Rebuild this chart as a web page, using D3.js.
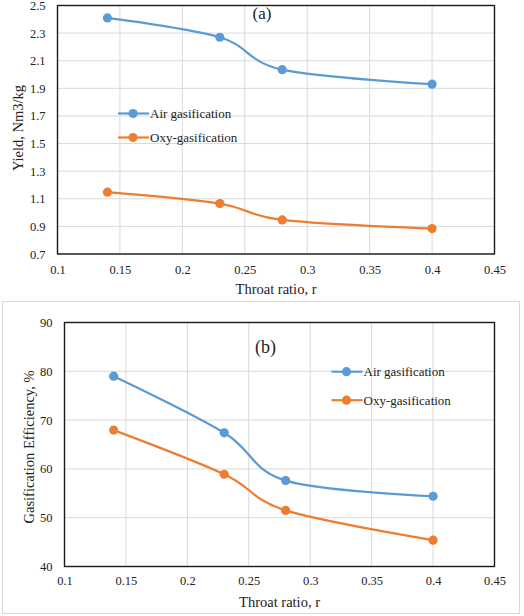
<!DOCTYPE html>
<html><head><meta charset="utf-8">
<script src="https://cdn.jsdelivr.net/npm/d3@7"></script>
<style>body{margin:0;background:#fff}svg{display:block}text{font-family:"Liberation Serif","Times New Roman",serif;fill:#222}</style>
</head><body><svg id="c" width="524" height="616"></svg>
<script>
const throatRatio = [0.14, 0.23, 0.28, 0.4];
const yieldAir = [2.41, 2.27, 2.035, 1.93];
const yieldOxy = [1.148, 1.065, 0.947, 0.884];
const effAir = [79.0, 67.4, 57.6, 54.4];
const effOxy = [67.95, 58.9, 51.5, 45.4];
const xTicks = [0.1, 0.15, 0.2, 0.25, 0.3, 0.35, 0.4, 0.45];
const yTicksA = [0.7, 0.9, 1.1, 1.3, 1.5, 1.7, 1.9, 2.1, 2.3, 2.5];
const yTicksB = [40, 50, 60, 70, 80, 90];
const seriesNames = ["Air gasification", "Oxy-gasification"];
const colors = ["#5B9BD5", "#ED7D31"];
const FONT = '"Liberation Serif", "Times New Roman", serif';

const svg = d3.select("#c");

// outer chart border for panel b
svg.append("rect").attr("x", 2.5).attr("y", 301.5).attr("width", 517).attr("height", 312)
  .attr("fill", "none").attr("stroke", "#d9d9d9").attr("stroke-width", 1);

function panel(o) {
  const x = d3.scaleLinear().domain([0.1, 0.45]).range([o.left, o.right]);
  const y = d3.scaleLinear().domain(o.yDomain).range([o.bottom, o.top]);
  const g = svg.append("g");
  // grid
  g.append("g").selectAll("line").data(xTicks).join("line")
    .attr("x1", d => x(d)).attr("x2", d => x(d)).attr("y1", o.top).attr("y2", o.bottom)
    .attr("stroke", "#d9d9d9").attr("stroke-width", 1);
  g.append("g").selectAll("line").data(o.yTicks).join("line")
    .attr("x1", o.left).attr("x2", o.right).attr("y1", d => y(d)).attr("y2", d => y(d))
    .attr("stroke", "#d9d9d9").attr("stroke-width", 1);
  // axes (labels only)
  const xa = g.append("g").attr("transform", `translate(0,${o.bottom})`)
    .call(d3.axisBottom(x).tickValues(xTicks).tickFormat(d => String(+d.toFixed(2))).tickSize(0).tickPadding(o.xPad));
  const ya = g.append("g").attr("transform", `translate(${o.left},0)`)
    .call(d3.axisLeft(y).tickValues(o.yTicks).tickFormat(o.yFmt).tickSize(0).tickPadding(o.yPad));
  [xa, ya].forEach(a => {
    a.attr("font-family", FONT).attr("font-size", 12.5);
    a.select(".domain").remove();
    a.selectAll("text").style("font-family", FONT).style("font-size", "12.5px").attr("fill", "#222");
  });
  // border
  g.append("rect").attr("x", o.left).attr("y", o.top).attr("width", o.right - o.left).attr("height", o.bottom - o.top)
    .attr("fill", "none").attr("stroke", "#1a1a1a").attr("stroke-width", 1.4);
  // series
  const line = d3.line().x(d => x(d[0])).y(d => y(d[1])).curve(d3.curveCardinal.tension(0));
  o.series.forEach((s, i) => {
    const pts = throatRatio.map((r, j) => [r, s[j]]);
    g.append("path").datum(pts).attr("d", line).attr("fill", "none").attr("stroke", colors[i]).attr("stroke-width", 2.2);
    g.append("g").selectAll("circle").data(pts).join("circle")
      .attr("cx", d => x(d[0])).attr("cy", d => y(d[1])).attr("r", 4.6).attr("fill", colors[i]);
  });
  // legend
  seriesNames.forEach((n, i) => {
    const ly = o.legY + i * o.legGap;
    g.append("line").attr("x1", o.legX).attr("x2", o.legX + 31).attr("y1", ly).attr("y2", ly)
      .attr("stroke", colors[i]).attr("stroke-width", 2.2);
    g.append("circle").attr("cx", o.legX + 15).attr("cy", ly).attr("r", 4.6).attr("fill", colors[i]);
    g.append("text").attr("x", o.legX + 32).attr("y", ly).attr("dy", "0.35em")
      .style("font-family", FONT).style("font-size", "13px").text(n);
  });
  // panel label
  g.append("text").attr("x", o.labX).attr("y", o.labY).attr("text-anchor", "middle")
    .style("font-family", FONT).style("font-size", o.labSize).text(o.label);
  // axis titles
  g.append("text").attr("x", (o.left + o.right) / 2).attr("y", o.xTitleY).attr("text-anchor", "middle")
    .attr("dy", "0.35em").style("font-family", FONT).style("font-size", "14.5px").text("Throat ratio, r");
  g.append("text").attr("transform", `translate(${o.yTitleX},${o.yTitleY}) rotate(-90)`)
    .attr("text-anchor", "middle").attr("dy", "0.35em").style("font-family", FONT).style("font-size", "14.5px").text(o.yTitle);
}

panel({
  left: 57.5, right: 494.5, top: 5.5, bottom: 254,
  yDomain: [0.7, 2.5], yTicks: yTicksA, yFmt: d => d.toFixed(1),
  series: [yieldAir, yieldOxy],
  xPad: 11, yPad: 12,
  legX: 118, legY: 113.5, legGap: 24,
  label: "(a)", labX: 262, labY: 19, labSize: "17px",
  xTitleY: 289, yTitleX: 17.5, yTitleY: 128, yTitle: "Yield, Nm3/kg"
});

panel({
  left: 64.5, right: 494.5, top: 322.5, bottom: 566.5,
  yDomain: [40, 90], yTicks: yTicksB, yFmt: d => String(d),
  series: [effAir, effOxy],
  xPad: 10, yPad: 12,
  legX: 331.5, legY: 371.7, legGap: 28.5,
  label: "(b)", labX: 265.5, labY: 353, labSize: "18px",
  xTitleY: 602, yTitleX: 29, yTitleY: 447, yTitle: "Gasification Efficiency, %"
});
</script></body></html>
